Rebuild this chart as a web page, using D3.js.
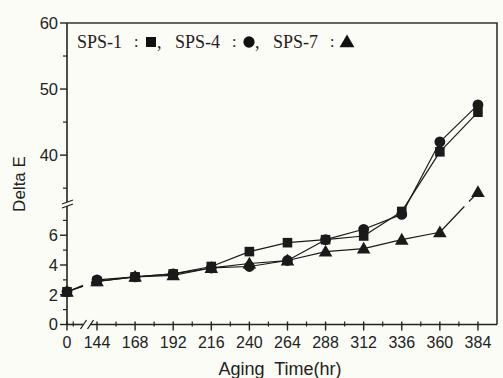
<!DOCTYPE html>
<html><head><meta charset="utf-8">
<script src="https://cdn.jsdelivr.net/npm/d3@7"></script>
<style>
html,body{margin:0;padding:0;background:#fcfcf7;}
svg{display:block;}
</style></head>
<body>
<svg id="c" width="503" height="378"></svg>
<script>
// ---- data ----
const hours = [0, 144, 168, 192, 216, 240, 264, 288, 312, 336, 360, 384];
const sps1 = [2.2, 2.9, 3.2, 3.4, 3.9, 4.9, 5.5, 5.7, 5.95, 7.6, 40.5, 46.5];
const sps4 = [2.2, 3.0, 3.2, 3.4, 3.8, 3.9, 4.3, 5.7, 6.4, 7.4, 42.0, 47.6];
const sps7 = [2.2, 2.9, 3.2, 3.3, 3.8, 4.1, 4.3, 4.9, 5.1, 5.7, 6.2, 34.4];
const seriesNames = ["SPS-1", "SPS-4", "SPS-7"];
const xTickLabels = [0, 144, 168, 192, 216, 240, 264, 288, 312, 336, 360, 384];
const xMinorTicks = [30, 156, 180, 204, 228, 252, 276, 300, 324, 348, 372];
const yTickLabels = [0, 2, 4, 6, 40, 50, 60];
const yMinorTicks = [1, 3, 5, 7, 35, 45, 55];
const xBreakValue = 96;      // position of the axis break between 0 and 144
const yBreakValue = 20;      // any value inside the broken y range

// ---- scales (broken axes) ----
const x = d3.scaleLinear().domain([0, 144, 396]).range([67, 97, 497]);
const y = d3.scaleLinear().domain([0, 8.1, 32.6, 60]).range([324.5, 204, 204, 23]);

const svg = d3.select("#c");
const ink = "#222";

// frame (top & right)
svg.append("path")
  .attr("d", `M${x(0)},${y(60)}H${x(396)}V${y(0)}`)
  .attr("fill", "none").attr("stroke", "#333").attr("stroke-width", 1.6);

// ---- y axis with break ----
const yb = y(yBreakValue);
const ax = x(0);
svg.append("line").attr("x1", ax).attr("x2", ax).attr("y1", y(60)).attr("y2", yb - 2)
  .attr("stroke", ink).attr("stroke-width", 1.6);
svg.append("line").attr("x1", ax).attr("x2", ax).attr("y1", yb + 2).attr("y2", y(0))
  .attr("stroke", ink).attr("stroke-width", 1.6);
[-2, 2].forEach(o => {
  svg.append("line").attr("x1", ax - 5).attr("y1", yb + o + 2).attr("x2", ax + 6).attr("y2", yb + o - 2)
    .attr("stroke", ink).attr("stroke-width", 1.3);
});
yTickLabels.forEach(v => {
  svg.append("line").attr("x1", ax - 7).attr("x2", ax).attr("y1", y(v)).attr("y2", y(v))
    .attr("stroke", ink).attr("stroke-width", 1.4);
  svg.append("text").attr("x", ax - 9).attr("y", y(v)).attr("dy", "0.36em")
    .attr("text-anchor", "end").attr("font-family", "Liberation Sans, Arial, sans-serif")
    .attr("font-size", 16.5).attr("fill", "#222").text(v);
});
yMinorTicks.forEach(v => {
  svg.append("line").attr("x1", ax - 4).attr("x2", ax).attr("y1", y(v)).attr("y2", y(v))
    .attr("stroke", ink).attr("stroke-width", 1.2);
});

// ---- x axis with break ----
const xb = x(xBreakValue);
const ay = y(0);
svg.append("line").attr("x1", ax).attr("x2", xb - 4).attr("y1", ay).attr("y2", ay)
  .attr("stroke", ink).attr("stroke-width", 1.6);
svg.append("line").attr("x1", xb + 3).attr("x2", x(396)).attr("y1", ay).attr("y2", ay)
  .attr("stroke", ink).attr("stroke-width", 1.6);
[-3.5, 3.5].forEach(o => {
  svg.append("line").attr("x1", xb + o - 3).attr("y1", ay + 4.5).attr("x2", xb + o + 3).attr("y2", ay - 4.5)
    .attr("stroke", ink).attr("stroke-width", 1.3);
});
xTickLabels.forEach(v => {
  svg.append("line").attr("x1", x(v)).attr("x2", x(v)).attr("y1", ay - 3).attr("y2", ay + 6)
    .attr("stroke", ink).attr("stroke-width", 1.4);
  svg.append("text").attr("x", x(v)).attr("y", ay + 23)
    .attr("text-anchor", "middle").attr("font-family", "Liberation Sans, Arial, sans-serif")
    .attr("font-size", 16).attr("fill", "#222").text(v);
});
xMinorTicks.forEach(v => {
  svg.append("line").attr("x1", x(v)).attr("x2", x(v)).attr("y1", ay - 3).attr("y2", ay + 2)
    .attr("stroke", ink).attr("stroke-width", 1.2);
});

// axis titles
svg.append("text").attr("x", 280).attr("y", 375).attr("text-anchor", "middle")
  .attr("font-family", "Liberation Sans, Arial, sans-serif").attr("font-size", 18)
  .attr("fill", "#222").attr("xml:space", "preserve").text("Aging  Time(hr)");
svg.append("text").attr("transform", "translate(25,184) rotate(-90)").attr("text-anchor", "middle")
  .attr("font-family", "Liberation Sans, Arial, sans-serif").attr("font-size", 17)
  .attr("fill", "#222").text("Delta E");

// ---- lines ----
const data = [sps1, sps4, sps7];
const symTypes = [d3.symbolSquare, d3.symbolCircle, d3.symbolTriangle];
const symSizes = [92, 92, 80];
const gLines = svg.append("g");
function seg(p, q) {
  gLines.append("line").attr("x1", p[0]).attr("y1", p[1]).attr("x2", q[0]).attr("y2", q[1])
    .attr("stroke", "#1a1a1a").attr("stroke-width", 1.2);
}
function lerp(p, q, t) { return [p[0] + (q[0] - p[0]) * t, p[1] + (q[1] - p[1]) * t]; }
data.forEach((vals, si) => {
  for (let i = 1; i < vals.length; i++) {
    const p = [x(hours[i - 1]), y(vals[i - 1])], q = [x(hours[i]), y(vals[i])];
    if (hours[i - 1] < xBreakValue && hours[i] > xBreakValue) {
      const t1 = (xb - 4 - p[0]) / (q[0] - p[0]), t2 = (xb + 4 - p[0]) / (q[0] - p[0]);
      seg(p, lerp(p, q, t1)); seg(lerp(p, q, t2), q);
    } else if (si === 2 && vals[i - 1] < yBreakValue && vals[i] > yBreakValue) {
      const t1 = (p[1] - (yb + 2.5)) / (p[1] - q[1]), t2 = (p[1] - (yb - 2.5)) / (p[1] - q[1]);
      seg(p, lerp(p, q, t1)); seg(lerp(p, q, t2), q);
    } else seg(p, q);
  }
});

// ---- markers (triangles, circles, squares on top) ----
[2, 1, 0].forEach(si => {
  svg.append("g").selectAll("path").data(data[si]).join("path")
    .attr("transform", (d, i) => `translate(${x(hours[i])},${y(d) + (si === 2 ? 1 : 0)})`)
    .attr("d", d3.symbol().type(symTypes[si]).size(symSizes[si]))
    .attr("fill", "#1a1a1a");
});

// ---- legend ----
const lg = svg.append("g").attr("font-family", "Liberation Serif, 'DejaVu Serif', serif")
  .attr("font-size", 18).attr("fill", "#222");
seriesNames.forEach((n, i) => {
  const x0 = 77 + i * 98;
  lg.append("text").attr("x", x0).attr("y", 48).text(n);
  lg.append("text").attr("x", x0 + 57).attr("y", 47).attr("font-size", 16).text(":");
  lg.append("path").attr("transform", `translate(${x0 + 74},${42 + (i === 2 ? 1 : 0)})`)
    .attr("d", d3.symbol().type(symTypes[i]).size(i === 2 ? 95 : 100)).attr("fill", "#111");
  if (i < 2) lg.append("text").attr("x", x0 + 80).attr("y", 48).text(",");
});
</script>
</body></html>
